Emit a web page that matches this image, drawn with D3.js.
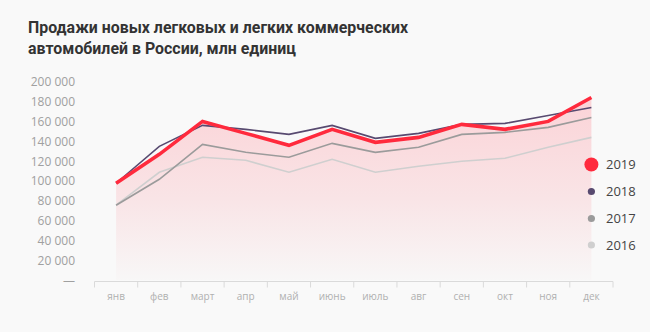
<!DOCTYPE html>
<html>
<head>
<meta charset="utf-8">
<script src="https://cdn.jsdelivr.net/npm/d3@7"></script>
<style>
  html, body { margin: 0; padding: 0; background: #f9f9f9; }
  svg { display: block; }
</style>
</head>
<body>
<svg id="chart" width="650" height="332"></svg>
<script>
const months = ['янв','фев','март','апр','май','июнь','июль','авг','сен','окт','ноя','дек'];
const years = ['2019','2018','2017','2016'];
const sales2019 = [98000, 127000, 160000, 148000, 136000, 152000, 139000, 144000, 157000, 152000, 160000, 184000];
const sales2018 = [98000, 135000, 156000, 152000, 147000, 156000, 143000, 148000, 157000, 158000, 166000, 174000];
const sales2017 = [76000, 102000, 137000, 129000, 124000, 138000, 129000, 134000, 147000, 149000, 154000, 164000];
const sales2016 = [76000, 109000, 124000, 121000, 109000, 122000, 109000, 115000, 120000, 123000, 134000, 144000];
const yTicks = [0, 20000, 40000, 60000, 80000, 100000, 120000, 140000, 160000, 180000, 200000];

const svg = d3.select('#chart');
const x = d3.scaleBand().domain(months).range([94.5, 613]).padding(0);
const cx = m => x(m) + x.bandwidth() / 2;
const y = d3.scaleLinear().domain([0, 200000]).range([281, 81.5]);

// title
const title = svg.append('text').attr('x', 28).attr('fill', '#333')
  .style('font-family', 'Roboto, sans-serif').style('font-weight', 700).style('font-size', '16.5px');
title.append('tspan').attr('x', 28).attr('y', 33).attr('textLength', 380).attr('lengthAdjust', 'spacingAndGlyphs')
  .text('Продажи новых легковых и легких коммерческих');
title.append('tspan').attr('x', 28).attr('y', 54).attr('textLength', 268).attr('lengthAdjust', 'spacingAndGlyphs')
  .text('автомобилей в России, млн единиц');

// gradient
const defs = svg.append('defs');
const grad = defs.append('linearGradient').attr('id', 'fillGrad')
  .attr('gradientUnits', 'userSpaceOnUse').attr('x1', 0).attr('x2', 0).attr('y1', 97).attr('y2', 281);
grad.append('stop').attr('offset', 0).attr('stop-color', '#fbd3d7');
grad.append('stop').attr('offset', 0.55).attr('stop-color', '#f9e4e6');
grad.append('stop').attr('offset', 1).attr('stop-color', '#f8f7f7');

// y axis labels
const fmt = v => v === 0 ? '—' : d3.format(',')(v).replace(/,/g, ' ');
svg.append('g').selectAll('text').data(yTicks).join('text')
  .attr('x', 75).attr('y', d => y(d)).attr('dy', '0.35em')
  .attr('text-anchor', 'end').attr('fill', '#a0a0a0')
  .style('font-family', '"Open Sans", sans-serif').style('font-size', '12px')
  .text(fmt);

// x axis
const xAxis = d3.axisBottom(x).tickSize(0).tickPadding(11);
const gx = svg.append('g').attr('transform', 'translate(0,281.5)').call(xAxis);
gx.select('.domain').remove();
gx.selectAll('text').attr('fill', '#b0b0b0').style('font-family', '"Open Sans", sans-serif').style('font-size', '10px');
gx.append('line').attr('x1', 94.5).attr('x2', 613).attr('y1', 0).attr('y2', 0).attr('stroke', '#dadada');
const tickPos = months.map(m => x(m)).concat([x.range()[1]]);
gx.selectAll('.sep').data(tickPos).join('line').attr('class', 'sep')
  .attr('x1', d => d).attr('x2', d => d).attr('y1', 0).attr('y2', 6).attr('stroke', '#dadada');

// area under 2019
const data2019 = months.map((m, i) => ({m, v: sales2019[i]}));
svg.append('path').datum(data2019)
  .attr('fill', 'url(#fillGrad)')
  .attr('d', d3.area().x(d => cx(d.m)).y0(y(0) - 1).y1(d => y(d.v)));

const series = [
  {name: '2016', values: sales2016, color: '#cfcfcf', width: 1.6},
  {name: '2017', values: sales2017, color: '#9b9b9b', width: 1.6},
  {name: '2018', values: sales2018, color: '#584a70', width: 1.6},
  {name: '2019', values: sales2019, color: '#ff2a3d', width: 3.6}
];
const line = d3.line().x(d => cx(d.m)).y(d => y(d.v));
series.forEach(s => {
  svg.append('path').datum(months.map((m, i) => ({m, v: s.values[i]})))
    .attr('fill', 'none').attr('stroke', s.color).attr('stroke-width', s.width)
    .attr('stroke-linejoin', 'miter').attr('d', line);
});

// legend
const legendY = [164.5, 191.5, 218.5, 245];
const legendSeries = years.map(yr => series.find(s => s.name === yr));
const lg = svg.append('g');
legendSeries.forEach((s, i) => {
  lg.append('circle').attr('cx', cx('дек')).attr('cy', legendY[i])
    .attr('r', s.name === '2019' ? 7 : 3.6).attr('fill', s.color);
  lg.append('text').attr('x', 606).attr('y', legendY[i]).attr('dy', '0.36em')
    .attr('fill', '#444').style('font-family', '"Open Sans", sans-serif').style('font-size', '13px')
    .text(s.name);
});
</script>
</body>
</html>
